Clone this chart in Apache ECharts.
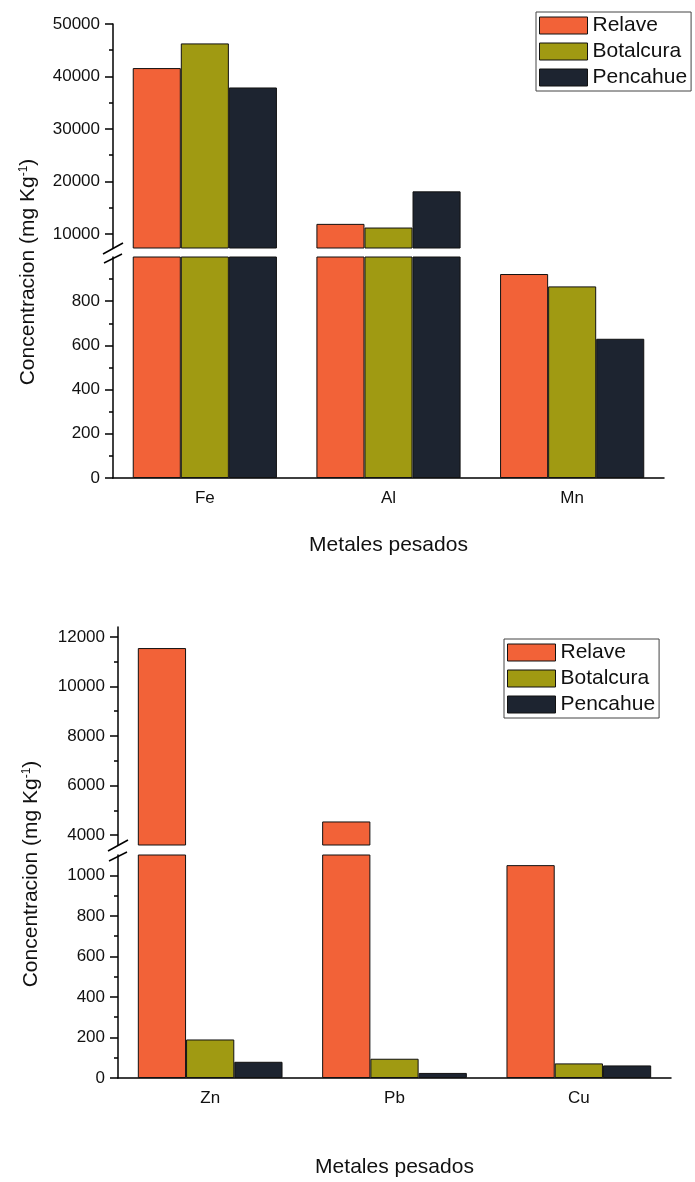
<!DOCTYPE html>
<html>
<head>
<meta charset="utf-8">
<script src="https://cdn.jsdelivr.net/npm/echarts@6/dist/echarts.min.js"></script>
<style>
  html, body { margin: 0; padding: 0; background: #fff; }
  #chart { width: 695px; height: 1182px; }
</style>
</head>
<body>
<div id="chart"></div>
<script>
// ---- data ----
const seriesNames = ['Relave', 'Botalcura', 'Pencahue'];
const metals1 = ['Fe', 'Al', 'Mn'];
const relave1 = [41600, 11900, 923];
const botalcura1 = [46300, 11200, 867];
const pencahue1 = [37900, 18100, 630];

const metals2 = ['Zn', 'Pb', 'Cu'];
const relave2 = [11550, 4550, 1050];
const botalcura2 = [190, 95, 72];
const pencahue2 = [80, 25, 62];

// tick values
const up1Major = [10000, 20000, 30000, 40000, 50000];
const up1Minor = [15000, 25000, 35000, 45000];
const lo1Major = [0, 200, 400, 600, 800];
const lo1Minor = [100, 300, 500, 700, 900];
const up2Major = [4000, 6000, 8000, 10000, 12000];
const up2Minor = [5000, 7000, 9000, 11000];
const lo2Major = [0, 200, 400, 600, 800, 1000];
const lo2Minor = [100, 300, 500, 700, 900];

const xName = 'Metales pesados';
const yNameRich = '{a|Concentracion (mg Kg}{s|-1}{a|)}';

// ---- style ----
const FONT = '"Liberation Sans", Arial, sans-serif';
const colors = ['#F26238', '#A09A12', '#1D2430'];
const AX = '#000';

const grids = [
  { left: 113, top: 24, width: 551, height: 224 },   // top panel, upper segment
  { left: 113, top: 257, width: 551, height: 221 },  // top panel, lower segment
  { left: 118, top: 627, width: 553, height: 218 },  // bottom panel, upper segment
  { left: 118, top: 855, width: 553, height: 223 }   // bottom panel, lower segment
];
const yRanges = [[7300, 50000], [0, 1000], [3600, 12400], [0, 1100]];
const majors = [up1Major, lo1Major, up2Major, lo2Major];
const minors = [up1Minor, lo1Minor, up2Minor, lo2Minor];

const xAxis = [];
const yAxis = [];
const series = [];
const dataSets = [
  [relave1, botalcura1, pencahue1],
  [relave2, botalcura2, pencahue2]
];

grids.forEach((g, gi) => {
  const cats = gi < 2 ? metals1 : metals2;
  const isLower = gi % 2 === 1;
  const mainX = xAxis.length;
  xAxis.push({
    type: 'category', gridIndex: gi, data: cats, show: isLower,
    axisLine: { lineStyle: { color: AX, width: 1.5 } },
    axisTick: { alignWithLabel: true, length: 8, lineStyle: { color: AX, width: 1.5 } },
    axisLabel: { fontFamily: FONT, fontSize: 17, color: '#111', margin: 12 },
    name: isLower ? xName : '', nameLocation: 'middle',
    nameGap: gi === 1 ? 57 : 79,
    nameTextStyle: { fontFamily: FONT, fontSize: 21, color: '#111' }
  });
  if (isLower) {
    xAxis.push({
      type: 'category', gridIndex: gi, data: cats, position: 'bottom',
      axisLine: { show: false },
      axisTick: { length: 4, lineStyle: { color: AX, width: 1.5 } },
      axisLabel: { show: false }
    });
  }
  const mainY = yAxis.length;
  yAxis.push({
    type: 'value', gridIndex: gi, position: 'left',
    min: yRanges[gi][0], max: yRanges[gi][1],
    splitLine: { show: false },
    axisLine: { show: true, lineStyle: { color: AX, width: 1.5 } },
    axisTick: { show: true, length: 8, customValues: majors[gi], lineStyle: { color: AX, width: 1.5 } },
    axisLabel: { customValues: majors[gi], formatter: v => String(v), fontFamily: FONT, fontSize: 17, color: '#111', margin: 13 }
  });
  yAxis.push({
    type: 'value', gridIndex: gi, position: 'left',
    min: yRanges[gi][0], max: yRanges[gi][1],
    splitLine: { show: false },
    axisLine: { show: false },
    axisTick: { show: true, length: 4, customValues: minors[gi], lineStyle: { color: AX, width: 1.5 } },
    axisLabel: { show: false }
  });
  const ds = dataSets[gi < 2 ? 0 : 1];
  seriesNames.forEach((name, si) => {
    series.push({
      type: 'bar', name: name, xAxisIndex: mainX, yAxisIndex: mainY,
      data: ds[si], barGap: '0%', barCategoryGap: '21.5%', clip: true,
      itemStyle: { color: colors[si], borderColor: '#111', borderWidth: 1 },
      emphasis: { disabled: true }
    });
  });
});

const legendBase = {
  data: seriesNames, orient: 'vertical', icon: 'rect',
  itemWidth: 48, itemHeight: 17, itemGap: 5,
  padding: [3, 4, 3, 3],
  borderColor: '#444', borderWidth: 1, backgroundColor: '#fff',
  itemStyle: { borderWidth: 1, borderColor: '#111' },
  textStyle: { fontFamily: FONT, fontSize: 21, color: '#111', lineHeight: 21 },
  selectedMode: false
};

function breakMarks(ax, yTop, yBot) {
  return [
    { type: 'line', shape: { x1: ax - 10, y1: yTop + 6, x2: ax + 10, y2: yTop - 5 }, style: { stroke: '#000', lineWidth: 1.5 } },
    { type: 'line', shape: { x1: ax - 9, y1: yBot + 6, x2: ax + 9, y2: yBot - 3 }, style: { stroke: '#000', lineWidth: 1.5 } }
  ];
}

const yNameStyle = {
  text: yNameRich, fill: '#111', align: 'center', verticalAlign: 'middle',
  rich: {
    a: { fontFamily: FONT, fontSize: 21, fill: '#111' },
    s: { fontFamily: FONT, fontSize: 12, fill: '#111', verticalAlign: 'top' }
  }
};

const option = {
  backgroundColor: '#fff',
  animation: false,
  grid: grids,
  xAxis: xAxis,
  yAxis: yAxis,
  series: series,
  legend: [
    Object.assign({}, legendBase, { left: 536, top: 12 }),
    Object.assign({}, legendBase, { left: 504, top: 639 })
  ],
  graphic: [
    { type: 'text', x: 28, y: 272, rotation: Math.PI / 2, style: yNameStyle },
    { type: 'text', x: 31, y: 874, rotation: Math.PI / 2, style: yNameStyle }
  ].concat(breakMarks(113, 248, 257), breakMarks(118, 845, 855))
};

const chart = echarts.init(document.getElementById('chart'), null, { renderer: 'canvas' });
chart.setOption(option);
</script>
</body>
</html>
